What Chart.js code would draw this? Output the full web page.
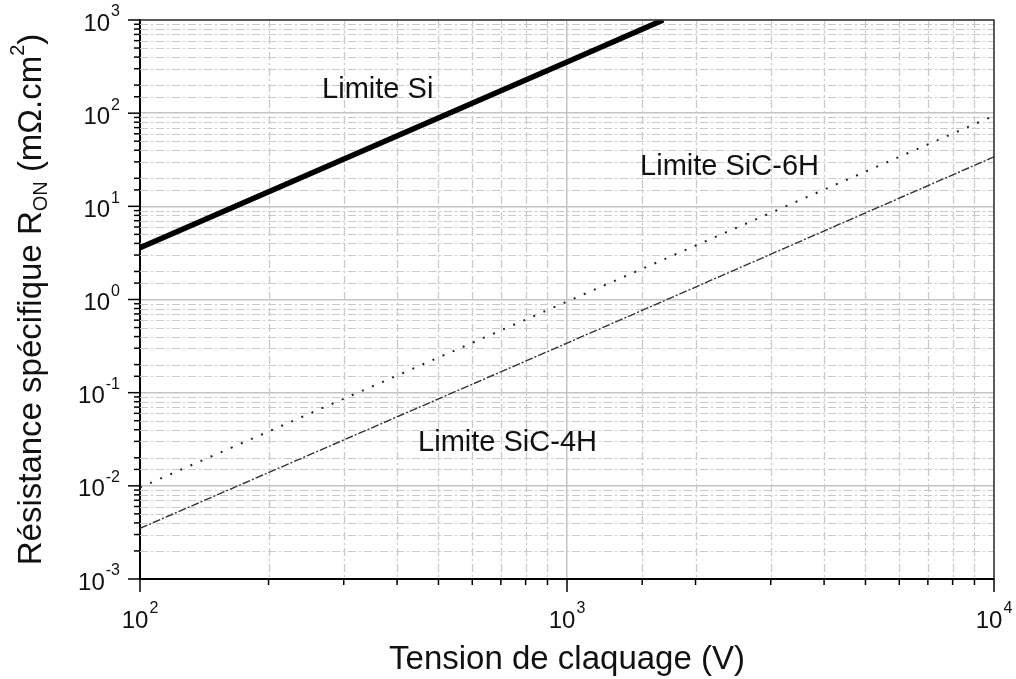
<!DOCTYPE html>
<html lang="fr">
<head>
  <meta charset="UTF-8">
  <title>Limites Si / SiC</title>
  <script src="https://cdn.jsdelivr.net/npm/chart.js"></script>
  <style>
    body { margin: 0; background: #fff; }
    #wrap { width: 1016px; height: 679px; }
  </style>
</head>
<body>
  <div id="wrap"><canvas id="chart" width="1016" height="679"></canvas></div>
  <script>
    // Values (V, mOhm.cm2)
    const siV = [100, 1000, 1680];
    const siR = [3.6, 355, 1000];
    const sic6hV = [100, 1000, 10000];
    const sic6hR = [0.0096, 0.95, 94];
    const sic4hV = [100, 1000, 10000];
    const sic4hR = [0.0035, 0.34, 34];

    const xMin = 100, xMax = 10000;
    const yMin = 0.001, yMax = 1000;

    // text labels anchored in data space (left edge, middle)
    const labelText = ['Limite Si', 'Limite SiC-6H', 'Limite SiC-4H'];
    const labelV = [267, 1483, 448];
    const labelR = [177, 26.5, 0.029];

    const FONT = '"Liberation Sans", Arial, sans-serif';

    function isMajor(v) {
      const l = Math.log10(v);
      return Math.abs(l - Math.round(l)) < 1e-6;
    }
    const toPts = (xs, ys) => xs.map((x, i) => ({ x: x, y: ys[i] }));

    // draw "10" with a raised exponent
    function drawPower(ctx, exp, x, y, align) {
      ctx.font = '24px ' + FONT;
      const wBase = ctx.measureText('10').width;
      ctx.font = '16px ' + FONT;
      const wExp = ctx.measureText(String(exp)).width;
      const total = wBase + wExp + 1;
      let left = align === 'right' ? x - total : x - total / 2;
      ctx.textAlign = 'left';
      ctx.textBaseline = 'middle';
      ctx.font = '24px ' + FONT;
      ctx.fillText('10', left, y);
      ctx.font = '16px ' + FONT;
      ctx.fillText(String(exp), left + wBase + 1, y - 12);
    }

    const decorPlugin = {
      id: 'decor',
      beforeDatasetsDraw(chart) {
        const ctx = chart.ctx;
        const a = chart.chartArea;
        const sx = chart.scales.x, sy = chart.scales.y;
        ctx.save();
        ctx.strokeStyle = '#c8c8c8';
        ctx.lineWidth = 1.2;
        ctx.setLineDash([8, 3, 2, 3]);
        sx.ticks.forEach(t => {
          if (isMajor(t.value)) return;
          const px = Math.round(sx.getPixelForValue(t.value)) + 0.5;
          ctx.beginPath(); ctx.moveTo(px, a.top); ctx.lineTo(px, a.bottom); ctx.stroke();
        });
        sy.ticks.forEach(t => {
          if (isMajor(t.value)) return;
          const py = Math.round(sy.getPixelForValue(t.value)) + 0.5;
          ctx.beginPath(); ctx.moveTo(a.left, py); ctx.lineTo(a.right, py); ctx.stroke();
        });
        ctx.restore();
      },
      afterDraw(chart) {
        const ctx = chart.ctx;
        const a = chart.chartArea;
        const sx = chart.scales.x, sy = chart.scales.y;
        ctx.save();
        // frame top / right
        ctx.strokeStyle = '#333';
        ctx.lineWidth = 1.5;
        ctx.beginPath();
        ctx.moveTo(a.left, a.top); ctx.lineTo(a.right, a.top); ctx.lineTo(a.right, a.bottom);
        ctx.stroke();

        // tick marks, outward
        ctx.strokeStyle = '#000';
        ctx.lineWidth = 1.5;
        sx.ticks.forEach(t => {
          const px = sx.getPixelForValue(t.value);
          const len = isMajor(t.value) ? 13 : 6;
          ctx.beginPath(); ctx.moveTo(px, a.bottom); ctx.lineTo(px, a.bottom + len); ctx.stroke();
        });
        sy.ticks.forEach(t => {
          const py = sy.getPixelForValue(t.value);
          const len = isMajor(t.value) ? 12 : 6;
          ctx.beginPath(); ctx.moveTo(a.left, py); ctx.lineTo(a.left - len, py); ctx.stroke();
        });

        // tick labels
        ctx.fillStyle = '#111';
        sx.ticks.forEach(t => {
          if (!isMajor(t.value)) return;
          drawPower(ctx, Math.round(Math.log10(t.value)), sx.getPixelForValue(t.value), a.bottom + 42, 'center');
        });
        sy.ticks.forEach(t => {
          if (!isMajor(t.value)) return;
          drawPower(ctx, Math.round(Math.log10(t.value)), a.left - 20, sy.getPixelForValue(t.value) + 4, 'right');
        });

        // x title
        ctx.font = '33px ' + FONT;
        ctx.textAlign = 'center';
        ctx.textBaseline = 'middle';
        ctx.fillText('Tension de claquage (V)', (a.left + a.right) / 2, 660);

        // y title with subscript and superscript
        const parts = [
          { t: 'Résistance spécifique R', s: 33, dy: 0 },
          { t: 'ON', s: 20, dy: 9 },
          { t: ' (mΩ.cm', s: 33, dy: 0 },
          { t: '2', s: 20, dy: -14 },
          { t: ')', s: 33, dy: 0 }
        ];
        let total = 0;
        parts.forEach(p => { ctx.font = p.s + 'px ' + FONT; p.w = ctx.measureText(p.t).width; total += p.w; });
        ctx.translate(32, (a.top + a.bottom) / 2);
        ctx.rotate(-Math.PI / 2);
        ctx.textAlign = 'left';
        let cx = -total / 2;
        parts.forEach(p => {
          ctx.font = p.s + 'px ' + FONT;
          ctx.fillText(p.t, cx, p.dy);
          cx += p.w;
        });
        ctx.restore();

        // in-plot labels
        ctx.save();
        ctx.fillStyle = '#111';
        ctx.font = '29px ' + FONT;
        ctx.textAlign = 'left';
        ctx.textBaseline = 'middle';
        labelText.forEach((txt, i) => {
          ctx.fillText(txt, sx.getPixelForValue(labelV[i]), sy.getPixelForValue(labelR[i]));
        });
        ctx.restore();
      }
    };

    new Chart(document.getElementById('chart'), {
      type: 'line',
      data: {
        datasets: [
          {
            label: 'Limite Si',
            data: toPts(siV, siR),
            borderColor: '#000',
            borderWidth: 5.5,
            pointRadius: 0
          },
          {
            label: 'Limite SiC-6H',
            data: toPts(sic6hV, sic6hR),
            borderColor: '#222',
            borderWidth: 2,
            borderDash: [2, 9],
            pointRadius: 0
          },
          {
            label: 'Limite SiC-4H',
            data: toPts(sic4hV, sic4hR),
            borderColor: '#333',
            borderWidth: 1.4,
            borderDash: [8, 2, 2, 2],
            pointRadius: 0
          }
        ]
      },
      options: {
        responsive: false,
        animation: false,
        layout: { padding: { top: 20, right: 22, left: 0, bottom: 0 } },
        plugins: { legend: { display: false }, tooltip: { enabled: false } },
        scales: {
          x: {
            type: 'logarithmic',
            min: xMin,
            max: xMax,
            ticks: { display: false, autoSkip: false },
            grid: {
              color: c => (c.tick && isMajor(c.tick.value)) ? '#c4c4c4' : 'rgba(0,0,0,0)',
              lineWidth: 1.5,
              drawTicks: false
            },
            border: { color: '#000', width: 2 },
            afterFit: s => { s.height = 100; }
          },
          y: {
            type: 'logarithmic',
            min: yMin,
            max: yMax,
            ticks: { display: false, autoSkip: false },
            grid: {
              color: c => (c.tick && isMajor(c.tick.value)) ? '#c4c4c4' : 'rgba(0,0,0,0)',
              lineWidth: 1.5,
              drawTicks: false
            },
            border: { color: '#000', width: 2 },
            afterFit: s => { s.width = 140; }
          }
        }
      },
      plugins: [decorPlugin]
    });
  </script>
</body>
</html>
